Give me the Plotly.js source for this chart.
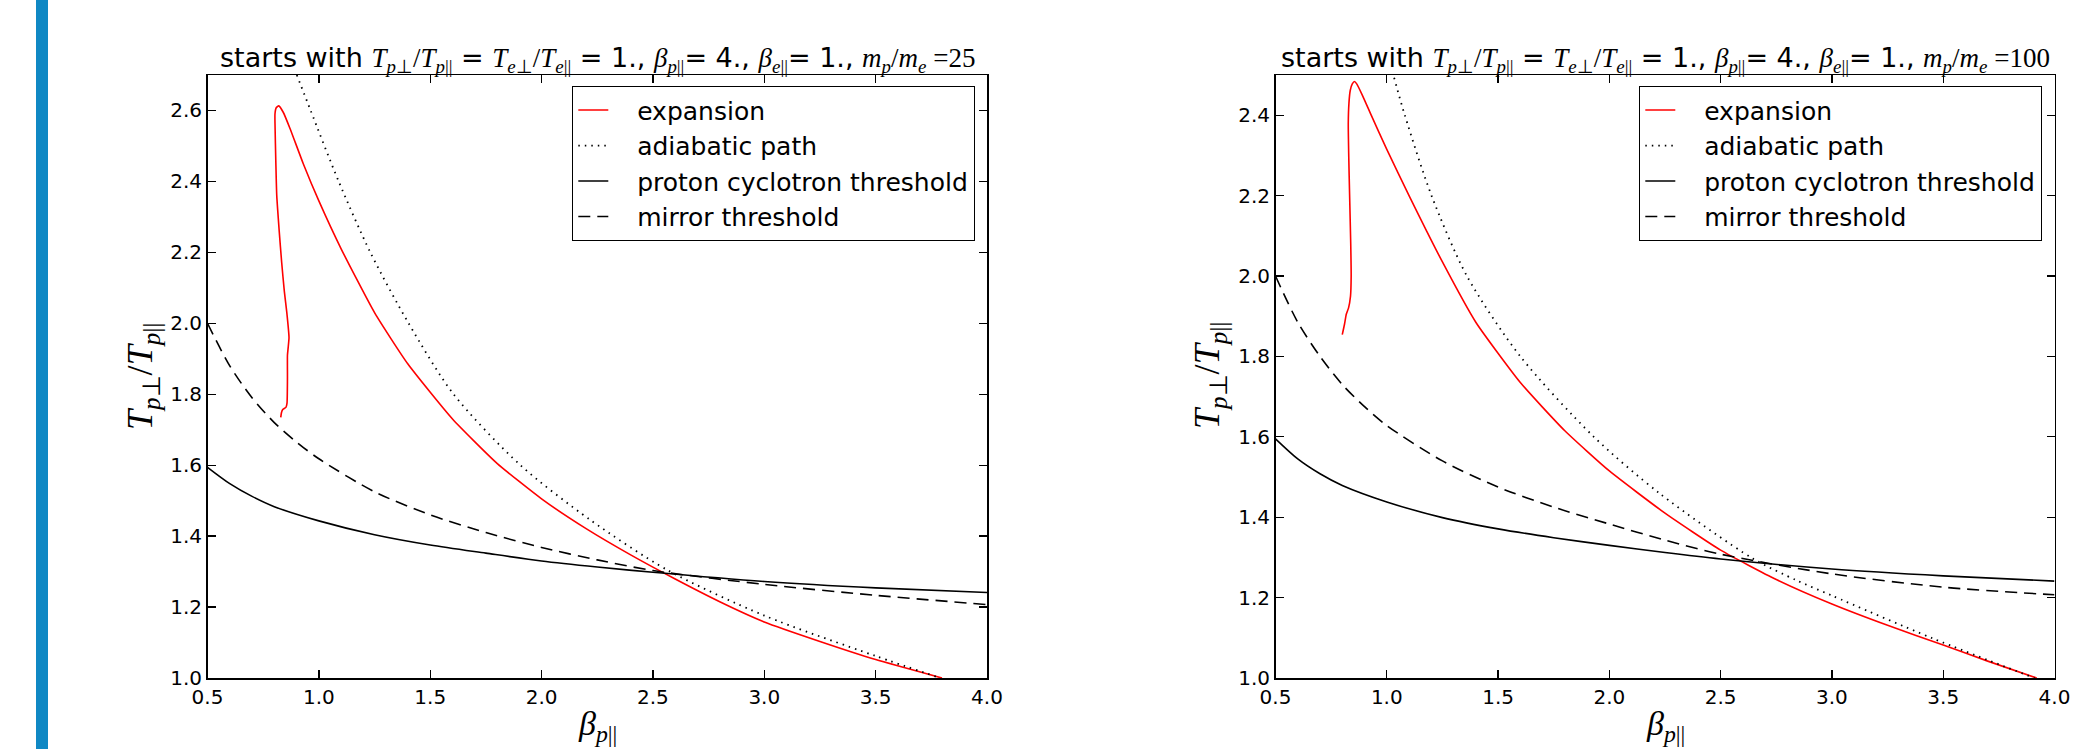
<!DOCTYPE html>
<html>
<head>
<meta charset="utf-8">
<script src="https://cdn.plot.ly/plotly-3.0.1.min.js"></script>
<style>html,body{margin:0;padding:0;background:#fff;} #chart{width:2096px;height:749px;}</style>
</head>
<body>
<div id="chart"></div>
<script>
// ---------- Left panel (m_p/m_e = 25) ----------
var L_expX = [3.798, 3.5, 3.25, 3.0, 2.8, 2.6, 2.4, 2.2, 2.0, 1.8, 1.6, 1.4, 1.25, 1.1, 1.0, 0.93, 0.87, 0.84, 0.82, 0.808, 0.803, 0.803, 0.807, 0.811, 0.822, 0.833, 0.845, 0.856, 0.866, 0.862, 0.859, 0.859, 0.857, 0.852, 0.838, 0.832, 0.829];
var L_expY = [1.0, 1.052, 1.103, 1.158, 1.215, 1.279, 1.347, 1.421, 1.505, 1.605, 1.73, 1.885, 2.03, 2.21, 2.345, 2.45, 2.55, 2.595, 2.613, 2.607, 2.59, 2.566, 2.45, 2.36, 2.26, 2.172, 2.09, 2.031, 1.96, 1.93, 1.91, 1.843, 1.775, 1.763, 1.757, 1.748, 1.735];
var L_adiX = [0.901, 0.963, 1.089, 1.231, 1.403, 1.605, 1.905, 2.218, 2.563, 3.0, 3.5, 3.79];
var L_adiY = [2.7, 2.6, 2.4, 2.2, 2.0, 1.8, 1.6, 1.446, 1.305, 1.176, 1.062, 1.0];
var L_pcX = [0.5, 0.6, 0.7, 0.8, 1.0, 1.25, 1.5, 1.75, 2.0, 2.25, 2.5, 3.0, 3.5, 4.0];
var L_pcY = [1.594, 1.548, 1.512, 1.483, 1.443, 1.404, 1.375, 1.352, 1.330, 1.313, 1.298, 1.272, 1.254, 1.241];
var L_mirX = [0.5, 0.6, 0.7, 0.8, 0.9, 1.0, 1.25, 1.5, 1.75, 2.0, 2.25, 2.5, 3.0, 3.5, 4.0];
var L_mirY = [2.0, 1.88, 1.79, 1.72, 1.665, 1.618, 1.525, 1.46, 1.41, 1.368, 1.333, 1.303, 1.264, 1.233, 1.207];

// ---------- Right panel (m_p/m_e = 100) ----------
var R_expX = [3.92, 3.7, 3.5, 3.25, 3.0, 2.75, 2.5, 2.25, 2.0, 1.8, 1.6, 1.4, 1.25, 1.1, 1.0, 0.93, 0.89, 0.865, 0.855, 0.845, 0.836, 0.83, 0.827, 0.829, 0.833, 0.838, 0.84, 0.837, 0.828, 0.818, 0.81, 0.80];
var R_expY = [1.0, 1.042, 1.082, 1.131, 1.184, 1.245, 1.318, 1.41, 1.515, 1.615, 1.735, 1.885, 2.035, 2.2, 2.315, 2.4, 2.45, 2.478, 2.484, 2.478, 2.462, 2.43, 2.38, 2.3, 2.2, 2.08, 2.0, 1.95, 1.92, 1.905, 1.88, 1.854];
var R_adiX = [1.033, 1.081, 1.201, 1.36, 1.60, 1.93, 2.226, 2.645, 2.841, 3.0, 3.455, 3.91];
var R_adiY = [2.493, 2.4, 2.2, 2.0, 1.8, 1.6, 1.459, 1.297, 1.243, 1.205, 1.098, 1.0];
var R_pcX = [0.5, 0.6, 0.7, 0.8, 1.0, 1.25, 1.5, 1.75, 2.0, 2.25, 2.5, 3.0, 3.5, 4.0];
var R_pcY = [1.595, 1.545, 1.508, 1.479, 1.438, 1.399, 1.371, 1.349, 1.330, 1.312, 1.296, 1.271, 1.254, 1.241];
var R_mirX = [0.5, 0.6, 0.7, 0.8, 0.9, 1.0, 1.25, 1.5, 1.75, 2.0, 2.25, 2.5, 3.0, 3.5, 4.0];
var R_mirY = [2.0, 1.885, 1.8, 1.73, 1.675, 1.628, 1.54, 1.475, 1.425, 1.383, 1.343, 1.308, 1.259, 1.226, 1.207];

var seriesNames = ['expansion', 'adiabatic path', 'proton cyclotron threshold', 'mirror threshold'];
var xTickVals = [0.5, 1.0, 1.5, 2.0, 2.5, 3.0, 3.5, 4.0];
var L_yTickVals = [1.0, 1.2, 1.4, 1.6, 1.8, 2.0, 2.2, 2.4, 2.6];
var R_yTickVals = [1.0, 1.2, 1.4, 1.6, 1.8, 2.0, 2.2, 2.4];
var massRatios = ['25', '100'];

var lineStyles = [
  {color: '#ff0000', width: 1.6, dash: 'solid', shape: 'spline', smoothing: 0.5},
  {color: '#000000', width: 1.8, dash: '1.5px,5px', shape: 'spline', smoothing: 0.8},
  {color: '#000000', width: 1.6, dash: 'solid', shape: 'spline', smoothing: 0.8},
  {color: '#000000', width: 1.6, dash: '12px,7px', shape: 'spline', smoothing: 0.8}
];

var PAD = '\u00a0\u00a0\u00a0';
function mk(x, y, i, xa, ya, leg) {
  return {x: x, y: y, type: 'scatter', mode: 'lines', name: PAD + seriesNames[i],
    line: Object.assign({}, lineStyles[i]),
    xaxis: xa, yaxis: ya, legend: leg, hoverinfo: 'skip'};
}

var data = [
  mk(L_expX, L_expY, 0, 'x', 'y', 'legend'),
  mk(L_adiX, L_adiY, 1, 'x', 'y', 'legend'),
  mk(L_pcX, L_pcY, 2, 'x', 'y', 'legend'),
  mk(L_mirX, L_mirY, 3, 'x', 'y', 'legend'),
  mk(R_expX, R_expY, 0, 'x2', 'y2', 'legend2'),
  mk(R_adiX, R_adiY, 1, 'x2', 'y2', 'legend2'),
  mk(R_pcX, R_pcY, 2, 'x2', 'y2', 'legend2'),
  mk(R_mirX, R_mirY, 3, 'x2', 'y2', 'legend2')
];

var W = 2096, H = 749;
var yDom = [1 - 678 / H, 1 - 75 / H];
var LxDom = [207.5 / W, 987 / W];
var RxDom = [1275.5 / W, 2054.5 / W];

function xax(dom, anchor) {
  return {domain: dom, anchor: anchor, range: [0.5, 4.0], tickvals: xTickVals, tickformat: '.1f',
    showline: true, linecolor: '#000', linewidth: 1.5, mirror: 'ticks', ticks: 'inside', ticklen: 8,
    tickwidth: 1.3, tickcolor: '#000', showgrid: false, zeroline: false,
    tickfont: {family: 'DejaVu Sans', size: 20, color: '#000'}, fixedrange: true};
}
function yax(dom, anchor, rng, tv) {
  return {domain: dom, anchor: anchor, range: rng, tickvals: tv, tickformat: '.1f',
    showline: true, linecolor: '#000', linewidth: 1.5, mirror: 'ticks', ticks: 'inside', ticklen: 8,
    tickwidth: 1.3, tickcolor: '#000', showgrid: false, zeroline: false,
    tickfont: {family: 'DejaVu Sans', size: 20, color: '#000'}, fixedrange: true};
}

var M = function (s) { return '<span style="font-family:Liberation Serif">' + s + '</span>'; };
function titleText(mr) {
  return 'starts with ' + M('<i>T</i><sub><i>p</i>⊥</sub>/<i>T</i><sub><i>p</i>||</sub>') + ' = ' +
    M('<i>T</i><sub><i>e</i>⊥</sub>/<i>T</i><sub><i>e</i>||</sub>') + ' = 1., ' +
    M('<i>β</i><sub><i>p</i>||</sub>') + '= 4., ' + M('<i>β</i><sub><i>e</i>||</sub>') + '= 1., ' +
    M('<i>m</i><sub><i>p</i></sub>/<i>m</i><sub><i>e</i></sub> =' + mr);
}
var yTitle = M('<i>T</i><sub><i>p</i>⊥</sub>/<i>T</i><sub><i>p</i>||</sub>');
var xTitle = M('<i>β</i><sub><i>p</i>||</sub>');

function legendCfg(xr) {
  return {x: xr, y: 1 - 86 / H, xanchor: 'right', yanchor: 'top', bgcolor: '#fff', bordercolor: '#000',
    borderwidth: 1.3, font: {family: 'DejaVu Sans', size: 25, color: '#000'}, traceorder: 'normal',
    itemclick: false, itemdoubleclick: false};
}

var layout = {
  width: W, height: H, margin: {l: 0, r: 0, t: 0, b: 0, pad: 0},
  paper_bgcolor: '#fff', plot_bgcolor: '#fff', showlegend: true,
  font: {family: 'DejaVu Sans', color: '#000', size: 20},
  xaxis: xax(LxDom, 'y'), yaxis: yax(yDom, 'x', [1.0, 2.7], L_yTickVals),
  xaxis2: xax(RxDom, 'y2'), yaxis2: yax(yDom, 'x2', [1.0, 2.5], R_yTickVals),
  legend: legendCfg(975 / W), legend2: legendCfg(2042 / W),
  shapes: [{type: 'rect', xref: 'paper', yref: 'paper', x0: 36 / W, x1: 48 / W, y0: 0, y1: 1,
    fillcolor: '#0f88c4', line: {width: 0}, layer: 'below'}],
  annotations: [
    {xref: 'paper', yref: 'paper', x: 597 / W, y: 1 - 60 / H, xanchor: 'center', yanchor: 'middle',
      text: titleText(massRatios[0]), showarrow: false, font: {family: 'DejaVu Sans', size: 27, color: '#000'}},
    {xref: 'paper', yref: 'paper', x: 1665 / W, y: 1 - 60 / H, xanchor: 'center', yanchor: 'middle',
      text: titleText(massRatios[1]), showarrow: false, font: {family: 'DejaVu Sans', size: 27, color: '#000'}},
    {xref: 'paper', yref: 'paper', x: 142 / W, y: 1 - 377 / H, xanchor: 'center', yanchor: 'middle',
      text: yTitle, textangle: -90, showarrow: false, font: {family: 'Liberation Serif', size: 36, color: '#000'}},
    {xref: 'paper', yref: 'paper', x: 1209 / W, y: 1 - 376 / H, xanchor: 'center', yanchor: 'middle',
      text: yTitle, textangle: -90, showarrow: false, font: {family: 'Liberation Serif', size: 36, color: '#000'}},
    {xref: 'paper', yref: 'paper', x: 597 / W, y: 1 - 726 / H, xanchor: 'center', yanchor: 'middle',
      text: xTitle, showarrow: false, font: {family: 'Liberation Serif', size: 34, color: '#000'}},
    {xref: 'paper', yref: 'paper', x: 1665 / W, y: 1 - 726 / H, xanchor: 'center', yanchor: 'middle',
      text: xTitle, showarrow: false, font: {family: 'Liberation Serif', size: 34, color: '#000'}}
  ]
};

Plotly.newPlot('chart', data, layout, {displayModeBar: false, staticPlot: true});
</script>
</body>
</html>
